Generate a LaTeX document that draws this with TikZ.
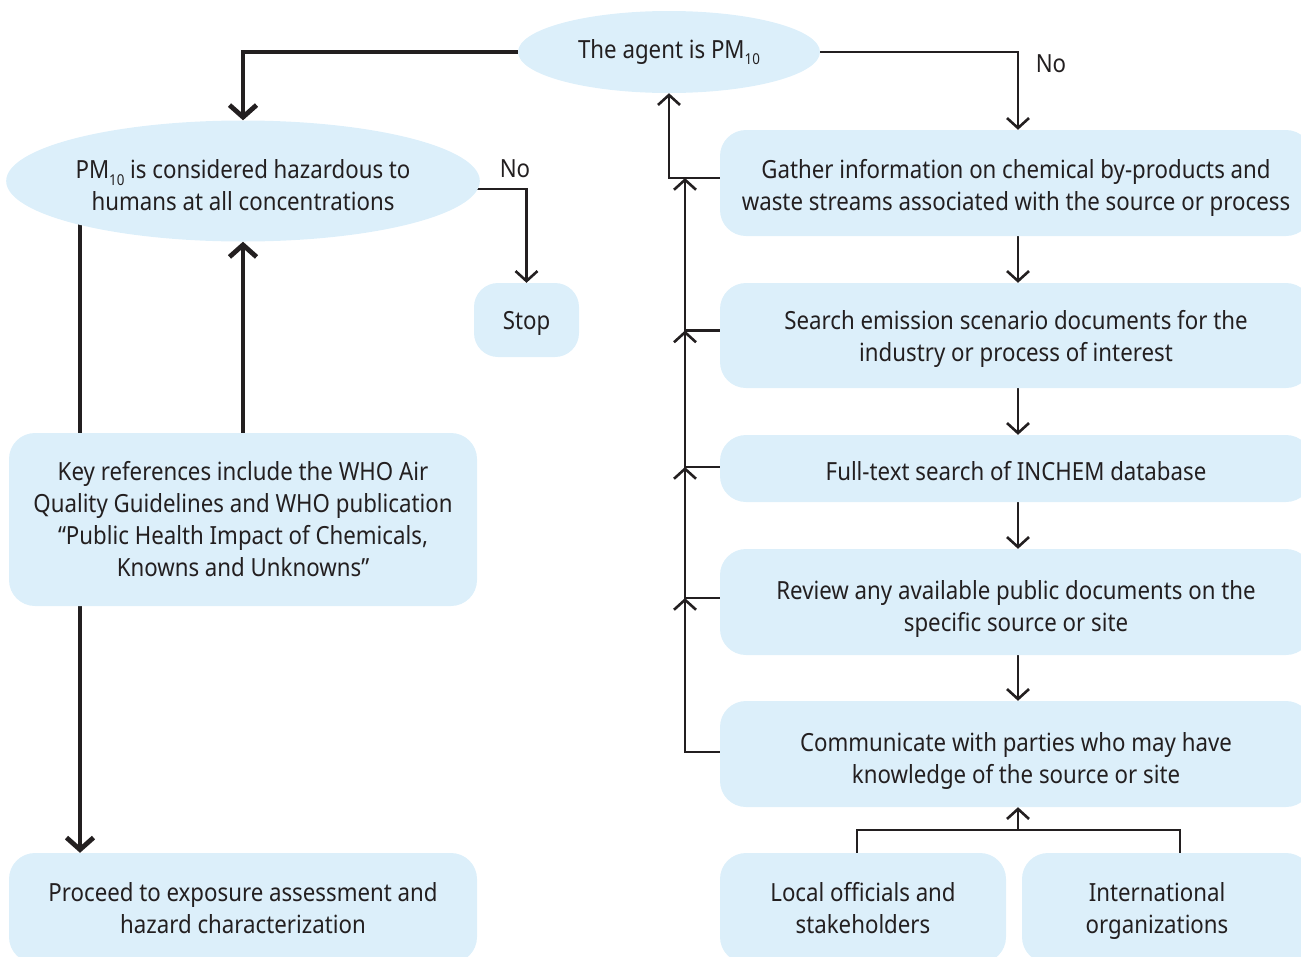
\documentclass[tikz,border=0pt]{standalone}
\usepackage{fontspec}
\setmainfont{Noto Sans}[FakeStretch=0.89]
\usetikzlibrary{shapes.geometric,arrows.meta,backgrounds}
\definecolor{boxfill}{HTML}{DCEFFA}
\definecolor{ink}{HTML}{231F20}
\newcommand{\pmsub}[1]{\raisebox{-0.27em}{\fontsize{15}{15}\selectfont #1}}
\begin{document}
\begin{tikzpicture}[x=1pt,y=-1pt,
  every node/.style={text=ink, font=\fontsize{25}{32}\selectfont},
  box/.style={rectangle, rounded corners=26pt, fill=boxfill, align=center, inner sep=0pt},
  oval/.style={ellipse, fill=boxfill, align=center, inner sep=0pt},
  % a strut taller than the text block lowers the text inside its node
  tdown/.style={execute at begin node={\rule{0pt}{\dimexpr\fontcharht\font`\l+#1\relax}}},
  plain/.style={draw=ink, line width=2.6pt},
  thinlink/.style={plain, -{Straight Barb[length=10pt,width=22pt]}},
  thicklink/.style={draw=ink, line width=4.8pt, -{Straight Barb[length=12pt,width=27pt]}},
  lbl/.style={inner sep=0pt}
]
\useasboundingbox (0,0) rectangle (1301,956);

% left column
\node[oval, minimum width=302pt, minimum height=82pt] (agent) at (669,52) {The agent is PM\pmsub{10}};
\node[oval, tdown=40pt, minimum width=469pt, minimum height=121pt] (hz) at (243,181)
  {PM\pmsub{10} is considered hazardous to\\humans at all concentrations};
\node[box, tdown=6pt, rounded corners=24pt, minimum width=105pt, minimum height=74pt] (stop) at (526.5,320) {Stop};
\node[box, minimum width=468pt, minimum height=173pt] (key) at (243,519.5)
  {Key references include the WHO Air\\Quality Guidelines and WHO publication\\“Public Health Impact of Chemicals,\\Knowns and Unknowns”};
\node[box, minimum width=468pt, minimum height=110pt] (proc) at (243,908)
  {Proceed to exposure assessment and\\hazard characterization};

% right column
\node[box, tdown=42pt, minimum width=592pt, minimum height=106pt] (gather) at (1016,183)
  {Gather information on chemical by-products and\\waste streams associated with the source or process};
\node[box, tdown=38pt, minimum width=592pt, minimum height=105pt] (search) at (1016,335.5)
  {Search emission scenario documents for the\\industry or process of interest};
\node[box, tdown=6pt, minimum width=592pt, minimum height=67pt] (inchem) at (1016,468.5)
  {Full-text search of INCHEM database};
\node[box, tdown=46pt, minimum width=592pt, minimum height=106pt] (review) at (1016,602)
  {Review any available public documents on the\\specific source or site};
\node[box, tdown=46pt, minimum width=592pt, minimum height=106pt] (comm) at (1016,754)
  {Communicate with parties who may have\\knowledge of the source or site};
\node[box, minimum width=286pt, minimum height=110pt] (local) at (863,908)
  {Local officials and\\stakeholders};
\node[box, minimum width=290pt, minimum height=110pt] (intl) at (1167,908) {};
\node[align=center, inner sep=0pt, tdown=38pt] (intltext) at (1157,908) {International\\organizations};

% labels
\node[lbl] (no1) at (1051,64) {No};
\node[lbl] (no2) at (515,169) {No};

% rail coordinates
\coordinate (rail) at (685,0);
\coordinate (gL) at ([yshift=5pt]gather.west);
\coordinate (sL) at ([yshift=5pt]search.west);
\coordinate (iL) at ([yshift=1.5pt]inchem.west);
\coordinate (rL) at ([yshift=4pt]review.west);
\coordinate (cL) at ([yshift=2pt]comm.west);
\coordinate (lx) at (80,181);
\coordinate (bl) at (857,830);
\coordinate (br) at (1180,830);
\coordinate (bm) at (1018,830);

\begin{scope}[on background layer]
  % left side
  \draw[thicklink] (agent.west) -| (hz.north);
  \draw[thicklink] (lx) -- (lx |- proc.north);
  \draw[thicklink] (key.north) -- (hz.south);
  \draw[thinlink] ([yshift=-8pt]hz.center) -| (stop.north);
  % right side
  \draw[thinlink] (agent.east) -| ([xshift=2pt]gather.north);
  \draw[thinlink] (gL) -| (agent.south);
  \draw[thinlink] (sL) -| (gL -| rail);
  \draw[thinlink] (iL) -| (sL -| rail);
  \draw[thinlink] (rL) -| (iL -| rail);
  \draw[thinlink] (cL) -| (rL -| rail);
  \draw[thinlink] ([xshift=2pt]gather.south) -- ([xshift=2pt]search.north);
  \draw[thinlink] ([xshift=2pt]search.south) -- ([xshift=2pt]inchem.north);
  \draw[thinlink] ([xshift=2pt]inchem.south) -- ([xshift=2pt]review.north);
  \draw[thinlink] ([xshift=2pt]review.south) -- ([xshift=2pt]comm.north);
  \draw[plain] (bl |- local.north) -- (bl) -- (br) -- (br |- intl.north);
  \draw[thinlink] (bm) -- (bm |- comm.south);
\end{scope}
\end{tikzpicture}
\end{document}
